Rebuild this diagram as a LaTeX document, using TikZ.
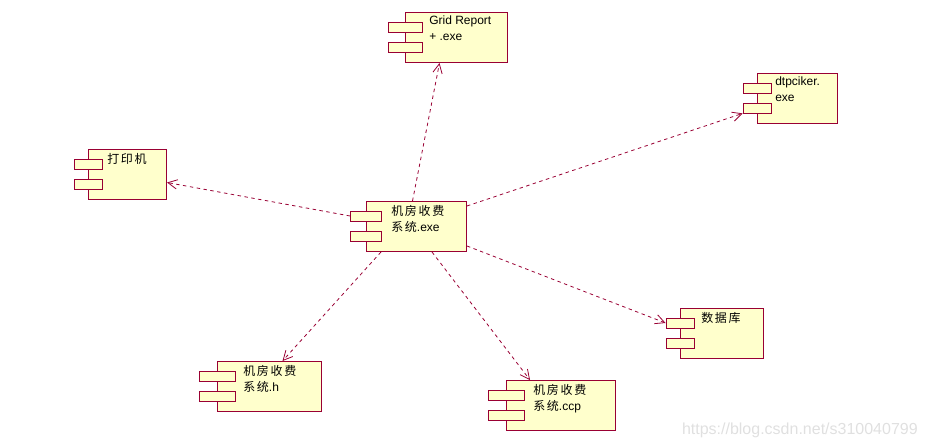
\documentclass[tikz,border=0pt]{standalone}
\usepackage{fontspec}
\setmainfont{Liberation Sans}
\newfontfamily\cjk[LetterSpace=14]{Noto Sans CJK SC}
\usetikzlibrary{arrows.meta}
\definecolor{umlline}{RGB}{153,0,51}
\definecolor{umlfill}{RGB}{255,255,204}
\newcommand{\umlcomp}[7]{%
	\node (#1) at (#2,#3) [box, minimum width=#4*0.75pt] {};
	\node (#1taba) at ([shift={(0,15)}]#1.north west) [tabbox, minimum width=#5*0.75pt] {};
	\node (#1tabb) at ([shift={(0,35)}]#1.north west) [tabbox, minimum width=#5*0.75pt] {};
	\node (#1text) at ([shift={(#6,4)}]#1.north west) [captiontext] {#7};
}

\begin{document}
\begin{tikzpicture}[
		x=0.75pt, y=-0.75pt,
		box/.style={rectangle, draw=umlline, fill=umlfill, line width=0.75pt, inner sep=0pt, anchor=north west, minimum height=37.5pt},
		tabbox/.style={rectangle, draw=umlline, fill=umlfill, line width=0.6pt, inner sep=0pt, minimum height=7.5pt},
		captiontext/.style={anchor=north west, inner sep=0pt, align=left, font=\fontsize{9}{12}\selectfont},
		arrow/.style={draw=umlline, line width=0.6pt, dash pattern=on 2.6pt off 2.6pt, -{Straight Barb[length=7pt,width=7pt]}}
		]
		\useasboundingbox (0,0) rectangle (928,448);
		
		\umlcomp{main}{366}{201}{100}{31}{25}{{\cjk 机房收费}\\{\cjk 系统}.exe}
		\umlcomp{grid}{405}{12}{102}{34}{24}{Grid Report\\+ .exe}
		\umlcomp{dtp}{757}{73}{80}{28}{18}{dtpciker.\\exe}
		\umlcomp{printer}{88}{149}{78}{28}{19}{{\cjk 打印机}}
		\umlcomp{db}{680}{308}{83}{28}{21}{{\cjk 数据库}}
		\umlcomp{head}{217}{361}{104}{36}{26}{{\cjk 机房收费}\\{\cjk 系统}.h}
		\umlcomp{ccp}{506}{380}{109}{36}{27}{{\cjk 机房收费}\\{\cjk 系统}.ccp}
		
		\draw [arrow] ([shift={(-4,0)}]main.north) -- ([shift={(-17,0)}]grid.south);
		\draw [arrow] ([shift={(0,5)}]main.north east) -- (dtptabb.south west);
		\draw [arrow] (maintaba.west) -- ([shift={(0,8)}]printer.east);
		\draw [arrow] ([shift={(15,0)}]main.south west) -- ([shift={(13,0)}]head.north);
		\draw [arrow] ([shift={(-35,0)}]main.south east) -- ([shift={(24,0)}]ccp.north west);
		\draw [arrow] ([shift={(0,-6)}]main.south east) -- (dbtaba.west);
		
		\node (mark) at (918,430) [anchor=east, inner sep=0pt, text=black!12, font=\fontsize{12}{14}\selectfont] {https://blog.csdn.net/s310040799};
	\end{tikzpicture}
\end{document}
